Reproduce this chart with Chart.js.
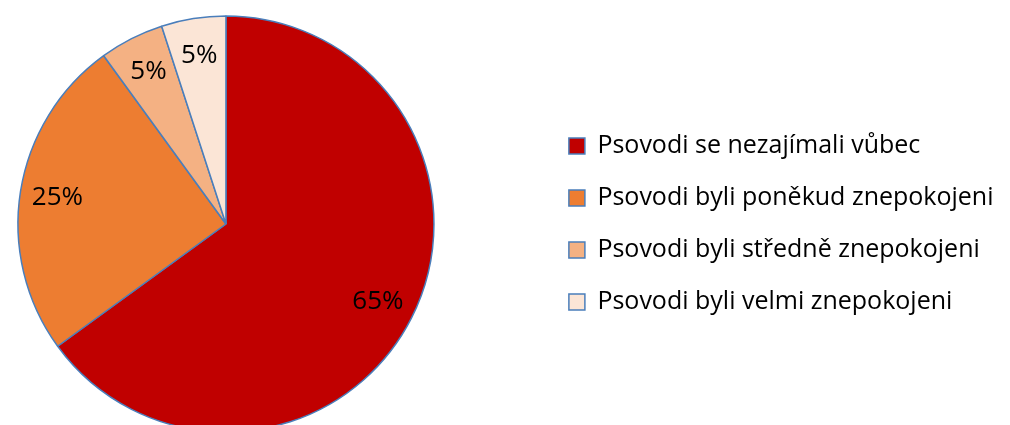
<!DOCTYPE html>
<html>
<head>
<meta charset="utf-8">
<script src="https://cdn.jsdelivr.net/npm/chart.js@4/dist/chart.umd.min.js"></script>
<style>
  html, body { margin: 0; padding: 0; background: #fff; overflow: hidden; }
  #okno { position: relative; width: 1010px; height: 425px; overflow: hidden; }
  /* plátno je širší a vyšší než okno, aby koláč ležel vlevo a byl dole oříznutý */
  #wrap { position: absolute; left: -90px; top: 0; width: 1100px; height: 448px; }
</style>
</head>
<body>
<div id="okno"><div id="wrap"><canvas id="graf"></canvas></div></div>
<script>
// kategorie a hodnoty (v procentech)
const kategorie = [
  "Psovodi se nezajímali vůbec",
  "Psovodi byli poněkud znepokojeni",
  "Psovodi byli středně znepokojeni",
  "Psovodi byli velmi znepokojeni",
];
const hodnoty = [65, 25, 5, 5];
const barvy = ["#c00000", "#ed7d31", "#f4b183", "#fbe5d6"];

// popisky procent uvnitř výsečí
const popiskyPlugin = {
  id: "popisky",
  afterDatasetsDraw(chart) {
    const ctx = chart.ctx;
    const meta = chart.getDatasetMeta(0);
    ctx.save();
    ctx.font = "26px 'Open Sans'";
    ctx.fillStyle = "#000";
    ctx.textAlign = "center";
    ctx.textBaseline = "middle";
    meta.data.forEach((arc, i) => {
      const p = arc.getProps(["x", "y", "startAngle", "endAngle", "outerRadius"], true);
      const uhel = (p.startAngle + p.endAngle) / 2;
      const r = p.outerRadius * 0.82;
      ctx.fillText(hodnoty[i] + "%", p.x + Math.cos(uhel) * r, p.y + Math.sin(uhel) * r);
    });
    ctx.restore();
  },
};

new Chart(document.getElementById("graf"), {
  type: "pie",
  data: {
    labels: kategorie,
    datasets: [{
      data: hodnoty,
      backgroundColor: barvy,
      borderColor: "#4a7ebb",
      borderWidth: 1.5,
      radius: 208,
    }],
  },
  options: {
    responsive: true,
    maintainAspectRatio: false,
    animation: false,
    layout: { padding: { left: 0, bottom: 0, right: 6.5, top: 0 } },
    plugins: {
      tooltip: { enabled: false },
      legend: {
        position: "right",
        labels: {
          boxWidth: 16,
          boxHeight: 16,
          padding: 27,
          color: "#000",
          font: { family: "'Open Sans'", size: 25 },
        },
      },
    },
  },
  plugins: [popiskyPlugin],
});
</script>
</body>
</html>
